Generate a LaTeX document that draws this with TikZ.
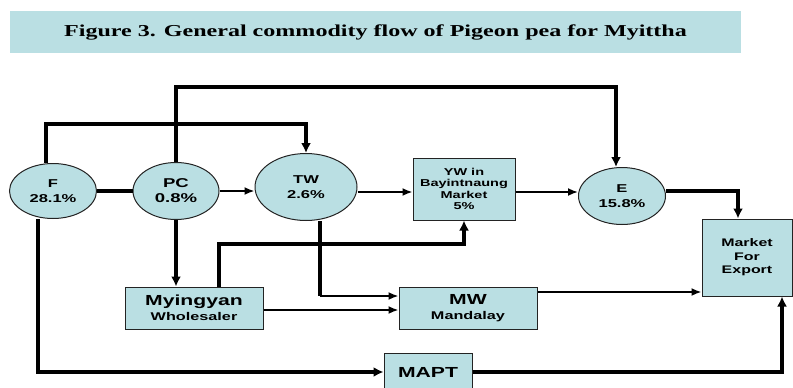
\documentclass[tikz,border=0pt]{standalone}
\usepackage{fontspec}
\usetikzlibrary{arrows.meta,shapes.geometric}

\newfontfamily\diafont[FakeStretch=1.45]{Liberation Sans}
\newfontfamily\titlefont[FakeStretch=1.44]{Liberation Serif}

\definecolor{flowfill}{RGB}{186,223,227}
\definecolor{flowline}{RGB}{35,35,35}

\tikzset{
  agent/.style={ellipse, draw=flowline, line width=1pt, fill=flowfill,
    inner sep=0pt, align=center, font=\diafont\bfseries\fontsize{11.4}{15}\selectfont},
  trader/.style={rectangle, draw=flowline, line width=1pt, fill=flowfill,
    inner sep=0pt, align=center, font=\diafont\bfseries},
  titleband/.style={rectangle, fill=flowfill, inner sep=0pt,
    font=\titlefont\bfseries\fontsize{16.7}{20}\selectfont},
  thin flow/.style={line width=1.8pt, -{Latex[length=10pt,width=8pt]}},
  thick flow/.style={line width=3.2pt, -{Latex[length=10pt,width=10pt]}},
  thick link/.style={line width=3.2pt},
}

\begin{document}
\begin{tikzpicture}[x=1pt, y=-1pt]

\useasboundingbox (0,0) rectangle (793,388);

% Title
\node[titleband, minimum width=731pt, minimum height=42pt] (title) at (375.5,32)
  {Figure 3. General commodity flow of Pigeon pea for Myittha};

% Rows of the long connectors
\coordinate (topA) at (0,87);
\coordinate (topB) at (0,124);
\coordinate (midrow) at (0,192);
\coordinate (yrow) at (0,244);
\coordinate (mwrow) at (0,296);

% Agents
\node[agent, minimum width=87pt, minimum height=55pt] (F) at (53,191) {F\\28.1\%};
\node[agent, minimum width=86pt, minimum height=57pt,
  font=\diafont\bfseries\fontsize{12.8}{15}\selectfont] (PC) at (176,191) {PC\\0.8\%};
\node[agent, minimum width=102pt, minimum height=67pt] (TW) at (306,187) {TW\\2.6\%};
\node[agent, minimum width=87pt, minimum height=57pt] (E) at (622,196) {E\\15.8\%};

% Markets and wholesalers
\node[trader, minimum width=102pt, minimum height=62pt,
  font=\diafont\bfseries\fontsize{10}{11.5}\selectfont] (YW) at (464,189)
  {YW in\\Bayintnaung\\Market\\5\%};
\node[trader, minimum width=90pt, minimum height=77pt,
  font=\diafont\bfseries\fontsize{11}{13.5}\selectfont] (Market) at (747,257.5)
  {Market\\For\\Export};
\node[trader, minimum width=138pt, minimum height=42pt,
  font=\diafont\bfseries\fontsize{11.2}{15}\selectfont] (My) at (194,308)
  {{\fontsize{14.6}{15}\selectfont Myingyan}\\Wholesaler};
\node[trader, minimum width=138pt, minimum height=42pt,
  font=\diafont\bfseries\fontsize{11.2}{15}\selectfont] (MW) at (468,308)
  {{\fontsize{14.6}{15}\selectfont MW}\\Mandalay};
\node[trader, minimum width=88pt, minimum height=38pt,
  font=\diafont\bfseries\fontsize{14.6}{16}\selectfont] (MAPT) at (428,372) {MAPT};

% Top connectors
\draw[thick flow] ([xshift=-7pt]F.north) |- (TW.north |- topB) -- (TW.north);
\draw[thick flow] (PC.north) |- ([xshift=-6pt]E.north |- topA) -- ([xshift=-6pt]E.north);

% Middle row
\draw[thick link] (F.east) -- (PC.west);
\draw[thin flow] (PC.east) -- (PC.east -| TW.west);
\draw[thin flow] (TW.east |- midrow) -- (YW.west |- midrow);
\draw[thin flow] (YW.east |- midrow) -- (E.west |- midrow);
\draw[thick flow] ([yshift=5pt]E.east) -| ([xshift=-9pt]Market.north);

% Down to the wholesalers
\draw[thick flow] (PC.south) -- (PC.south |- My.north);
\draw[thick flow] ([xshift=25pt]My.north) |- (YW.south |- yrow) -- (YW.south);
\coordinate (twbend) at ([xshift=14pt]TW.south |- mwrow);
\draw[thick link] ([xshift=14pt]TW.south) -- (twbend);
\draw[thin flow] (twbend) -- (MW.west |- mwrow);
\draw[thin flow] ([yshift=-2pt]My.east) -- ([yshift=-2pt]MW.west);
\draw[thin flow] ([yshift=16pt]MW.east) -- ([yshift=16pt]MW.east -| Market.west);

% Bottom route
\draw[thick flow] ([xshift=-15pt]F.south) |- (MAPT.west);
\draw[thick flow] (MAPT.east) -| ([xshift=35pt]Market.south);

\end{tikzpicture}
\end{document}
